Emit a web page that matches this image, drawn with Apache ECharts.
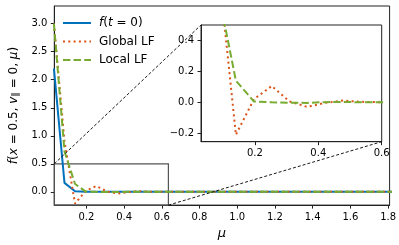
<!DOCTYPE html>
<html><head><meta charset="utf-8">
<script src="https://cdn.jsdelivr.net/npm/echarts@6/dist/echarts.min.js"></script>
<style>html,body{margin:0;padding:0;background:#fff}#c{width:399px;height:245px}</style>
</head><body><div id="c"></div>
<script>
// mu grid points
const mu = [0.028, 0.084, 0.140, 0.197, 0.253, 0.309, 0.365, 0.421, 0.478, 0.534, 0.590, 0.646, 0.703, 0.759, 0.815, 0.871, 0.928, 0.984, 1.040, 1.096, 1.153, 1.209, 1.265, 1.321, 1.378, 1.434, 1.490, 1.546, 1.603, 1.659, 1.715, 1.771, 1.828];
const fInit   = [2.2, 0.16, 0.012, 0.001, 0, 0, 0, 0, 0, 0, 0, 0, 0, 0, 0, 0, 0, 0, 0, 0, 0, 0, 0, 0, 0, 0, 0, 0, 0, 0, 0, 0, 0];
const globalLF = [3.0, 0.9, -0.21, 0.02, 0.105, 0.006, -0.03, -0.004, 0.011, 0.003, 0.001, 0, 0, 0, 0, 0, 0, 0, 0, 0, 0, 0, 0, 0, 0, 0, 0, 0, 0, 0, 0, 0, 0];
const localLF  = [3.0, 0.72, 0.14, 0.005, 0.0, -0.003, -0.004, 0.001, 0.002, 0.0, 0, 0, 0, 0, 0, 0, 0, 0, 0, 0, 0, 0, 0, 0, 0, 0, 0, 0, 0, 0, 0, 0, 0];
const names = ['f(t = 0)', 'Global LF', 'Local LF'];
const mainXTicks = [0.2, 0.4, 0.6, 0.8, 1.0, 1.2, 1.4, 1.6, 1.8];
const mainYTicks = [0.0, 0.5, 1.0, 1.5, 2.0, 2.5, 3.0];
const insetXTicks = [0.2, 0.4, 0.6];
const insetYTicks = [-0.2, 0.0, 0.2, 0.4];

const colors = ['#0072BD', '#D95319', '#77AC30'];
const FONT = 'DejaVu Sans';
const fmt = v => (v < 0 ? '\u2212' : '') + Math.abs(v).toFixed(1);
const pairs = arr => mu.map((m, i) => [m, arr[i]]);

function axisCommon(ticks) {
  return {
    type: 'value',
    axisLine: { show: true, onZero: false, lineStyle: { color: '#222', width: 1 } },
    axisTick: { show: true, length: 3.5, customValues: ticks, lineStyle: { color: '#222' } },
    axisLabel: { show: true, customValues: ticks, formatter: fmt, fontFamily: FONT, fontSize: 10, color: '#000', margin: 7 },
    splitLine: { show: false }
  };
}

const lineStyles = [
  { color: colors[0], width: 2, type: 'solid' },
  { color: colors[1], width: 2, type: [2, 3.3], cap: 'butt' },
  { color: colors[2], width: 2, type: [7.4, 3.2], cap: 'butt' }
];
const datas = [fInit, globalLF, localLF];

const series = [];
for (let k = 0; k < 3; k++) {
  const s = {
    type: 'line', name: names[k], xAxisIndex: 0, yAxisIndex: 0,
    data: pairs(datas[k]), symbol: 'none', showSymbol: false,
    lineStyle: lineStyles[k], itemStyle: { color: colors[k] }, clip: true, z: 3
  };
  if (k === 0) {
    s.markArea = {
      silent: true,
      itemStyle: { color: 'rgba(0,0,0,0)', borderColor: '#555', borderWidth: 1.2 },
      data: [[{ coord: [0.03, 0.5] }, { coord: [0.635, -0.236] }]]
    };
  }
  series.push(s);
}
for (let k = 1; k < 3; k++) {
  series.push({
    type: 'line', name: names[k], xAxisIndex: 1, yAxisIndex: 1,
    data: pairs(datas[k]), symbol: 'none', showSymbol: false,
    lineStyle: lineStyles[k], itemStyle: { color: colors[k] }, clip: true, z: 6
  });
}

const chart = echarts.init(document.getElementById('c'), null, { renderer: 'canvas' });
chart.setOption({
  animation: false,
  backgroundColor: '#fff',
  grid: [
    { left: 44, right: 9, top: 6, bottom: 33, show: true, borderColor: '#222', borderWidth: 1, backgroundColor: 'rgba(0,0,0,0)', z: 0 },
    { left: 201, right: 17.3, top: 25, bottom: 103.3, show: true, borderColor: '#222', borderWidth: 1, backgroundColor: '#fff', z: 5 }
  ],
  xAxis: [
    Object.assign(axisCommon(mainXTicks), {
      gridIndex: 0, min: 0.03, max: 1.808,
      name: 'μ', nameLocation: 'middle', nameGap: 13,
      nameTextStyle: { fontFamily: FONT, fontSize: 13, fontStyle: 'italic', color: '#000' }
    }),
    Object.assign(axisCommon(insetXTicks), { gridIndex: 1, min: 0.03, max: 0.6, z: 6 })
  ],
  yAxis: [
    Object.assign(axisCommon(mainYTicks), {
      gridIndex: 0, min: -0.236, max: 3.315,
      name: '{i|f}({i|x} = 0.5, {i|v}{s|∥} = 0, {i|μ})', nameLocation: 'middle', nameGap: 26,
      nameTextStyle: {
        fontFamily: FONT, fontSize: 12, color: '#000',
        rich: {
          i: { fontFamily: FONT, fontSize: 12, fontStyle: 'italic', color: '#000' },
          s: { fontFamily: FONT, fontSize: 9, color: '#000', padding: [4, 0, 0, 0] }
        }
      }
    }),
    Object.assign(axisCommon(insetYTicks), { gridIndex: 1, min: -0.255, max: 0.5, z: 6 })
  ],
  legend: {
    data: names,
    orient: 'vertical', left: 62, top: 17, padding: 0,
    itemWidth: 28, itemHeight: 12, itemGap: 6.5,
    itemStyle: { color: 'rgba(0,0,0,0)', opacity: 0, borderWidth: 0 },
    formatter: n => n === 'f(t = 0)' ? '{i|f}({i|t} = 0)' : n,
    textStyle: {
      fontFamily: FONT, fontSize: 12, color: '#000', lineHeight: 12, padding: [0, 0, 0, 3],
      rich: { i: { fontFamily: FONT, fontSize: 12, fontStyle: 'italic', color: '#000' } }
    }
  },
  series: series
});

// connector lines between zoom rectangle and inset, computed from axis scales
const p1 = chart.convertToPixel({ xAxisIndex: 0, yAxisIndex: 0 }, [0.03, 0.5]);
const q1 = chart.convertToPixel({ xAxisIndex: 1, yAxisIndex: 1 }, [0.03, 0.5]);
const p2 = chart.convertToPixel({ xAxisIndex: 0, yAxisIndex: 0 }, [0.635, -0.236]);
const q2 = chart.convertToPixel({ xAxisIndex: 1, yAxisIndex: 1 }, [0.6, -0.255]);
chart.setOption({
  graphic: [
    { type: 'line', z: 4, shape: { x1: p1[0], y1: p1[1], x2: q1[0], y2: q1[1] }, style: { stroke: '#000', lineWidth: 0.9, lineDash: [3, 2] }, silent: true },
    { type: 'line', z: 4, shape: { x1: p2[0], y1: p2[1], x2: q2[0], y2: q2[1] }, style: { stroke: '#000', lineWidth: 0.9, lineDash: [3, 2] }, silent: true }
  ]
});
</script></body></html>
